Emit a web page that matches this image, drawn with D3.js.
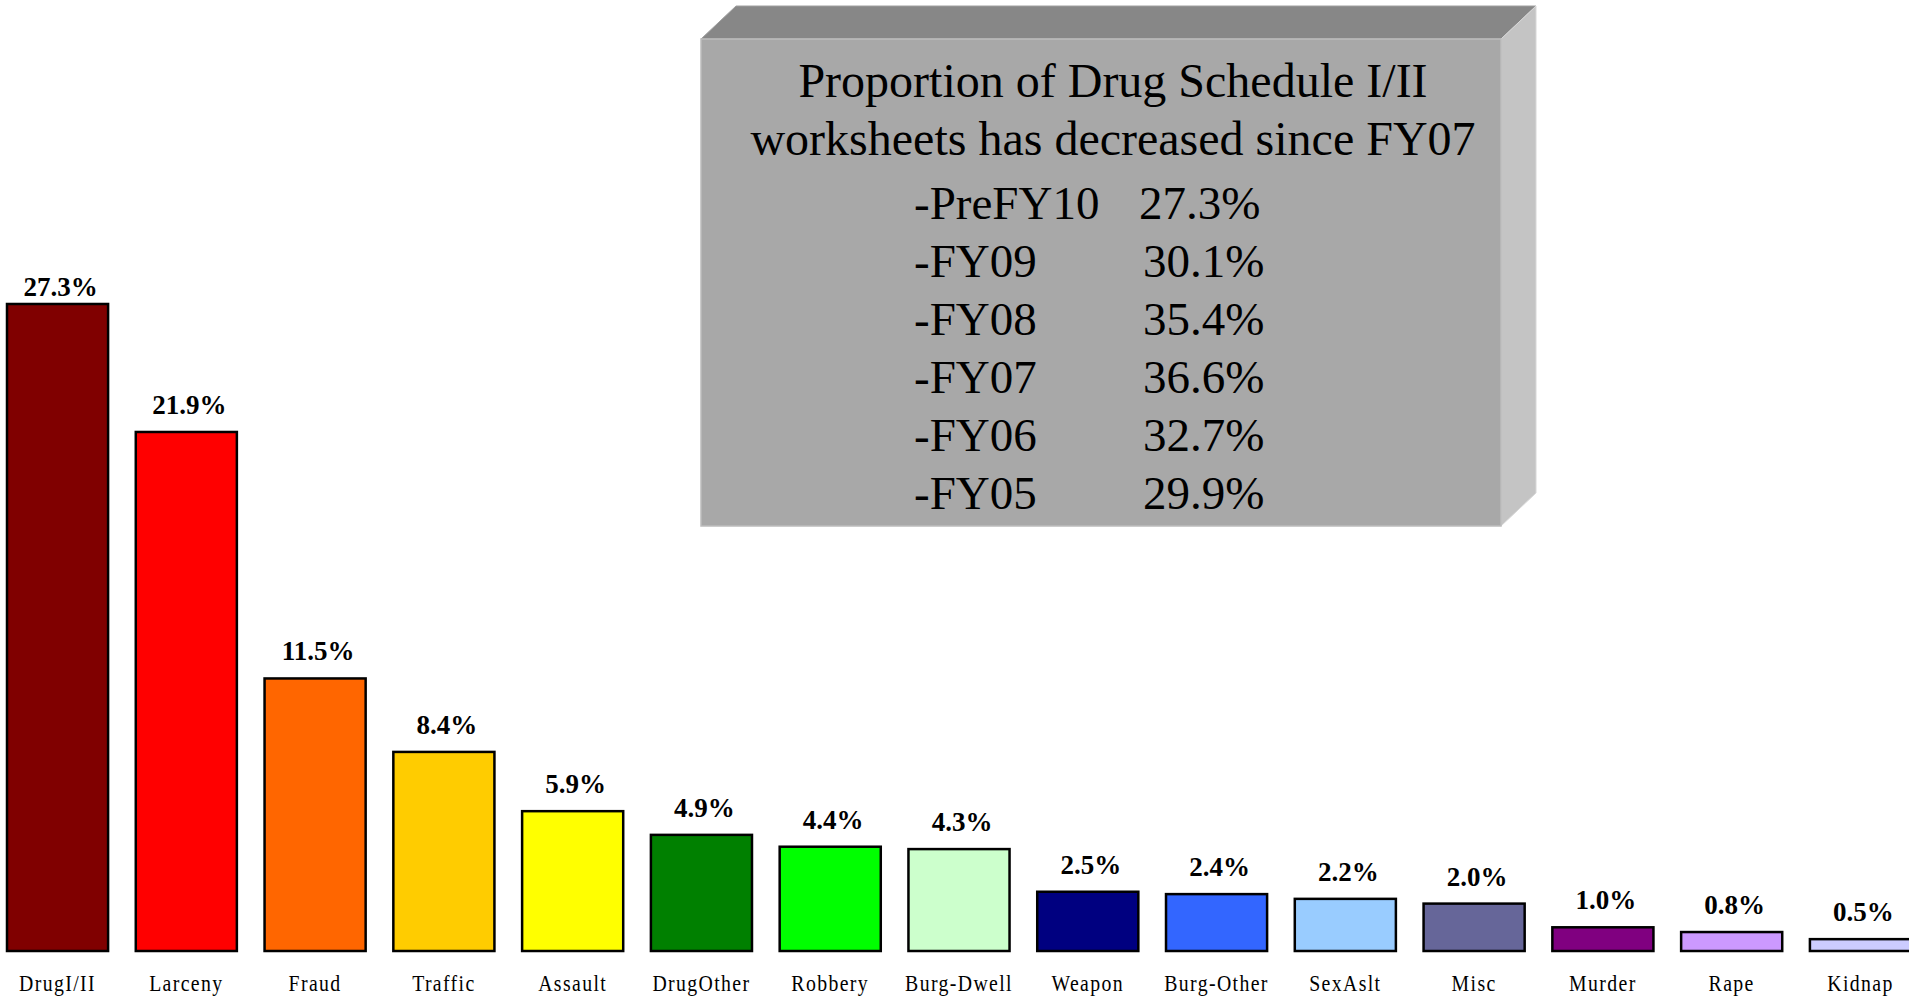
<!DOCTYPE html>
<html>
<head>
<meta charset="utf-8">
<script src="https://cdn.jsdelivr.net/npm/d3@7"></script>
<style>
  body { margin: 0; background: #fff; }
  svg { display: block; }
</style>
</head>
<body>
<div id="chart"></div>
<script>
// dados do gráfico
const categories = ["DrugI/II", "Larceny", "Fraud", "Traffic", "Assault", "DrugOther", "Robbery",
  "Burg-Dwell", "Weapon", "Burg-Other", "SexAslt", "Misc", "Murder", "Rape", "Kidnap"];
const shares = [27.3, 21.9, 11.5, 8.4, 5.9, 4.9, 4.4, 4.3, 2.5, 2.4, 2.2, 2.0, 1.0, 0.8, 0.5];
const barColors = ["#800000", "#FF0000", "#FF6600", "#FFCC00", "#FFFF00", "#008000", "#00FF00",
  "#CCFFCC", "#000080", "#3366FF", "#99CCFF", "#666699", "#800080", "#CC99FF", "#CCCCFF"];

// caixa de texto
const titleLines = ["Proportion of Drug Schedule I/II", "worksheets has decreased since FY07"];
const years = ["-PreFY10", "-FY09", "-FY08", "-FY07", "-FY06", "-FY05"];
const yearShares = ["27.3%", "30.1%", "35.4%", "36.6%", "32.7%", "29.9%"];

const W = 1909, H = 997;
const serif = "'Liberation Serif', 'Times New Roman', serif";

const svg = d3.select("#chart").append("svg")
  .attr("width", W)
  .attr("height", H);

const x = d3.scaleBand()
  .domain(categories)
  .range([7, 1911])
  .paddingInner(0.215)
  .paddingOuter(0);

const y = d3.scaleLinear()
  .domain([0, 30])
  .range([951, 240]);

// barras
svg.append("g")
  .selectAll("rect")
  .data(categories)
  .join("rect")
  .attr("x", d => x(d))
  .attr("y", (d, i) => y(shares[i]))
  .attr("width", x.bandwidth())
  .attr("height", (d, i) => y(0) - y(shares[i]))
  .attr("fill", (d, i) => barColors[i])
  .attr("stroke", "#000")
  .attr("stroke-width", 2.5);

// valores acima das barras (o primeiro fica mais colado na barra)
svg.append("g")
  .selectAll("text")
  .data(categories)
  .join("text")
  .attr("x", d => x(d) + x.bandwidth() / 2 + 3)
  .attr("y", (d, i) => y(shares[i]) - (i === 0 ? 8 : 18))
  .attr("text-anchor", "middle")
  .style("font-family", serif)
  .style("font-weight", "bold")
  .style("font-size", "27px")
  .text((d, i) => shares[i].toFixed(1) + "%");

// rótulos das categorias (fonte um pouco comprimida na horizontal)
svg.append("g")
  .selectAll("text")
  .data(categories)
  .join("text")
  .attr("transform", d => `translate(${x(d) + x.bandwidth() / 2},991) scale(0.86,1)`)
  .attr("text-anchor", "middle")
  .style("font-family", serif)
  .style("font-size", "23px")
  .style("letter-spacing", "1.6px")
  .text(d => d);

// caixa 3D
const box = { x0: 701, y0: 39, x1: 1501, y1: 526, dx: 35, dy: 33 };
const bx = svg.append("g");

bx.append("path") // topo
  .attr("d", `M${box.x0},${box.y0} L${box.x0 + box.dx},${box.y0 - box.dy} L${box.x1 + box.dx},${box.y0 - box.dy} L${box.x1},${box.y0} Z`)
  .attr("fill", "#878787")
  .attr("stroke", "#a0a0a0")
  .attr("stroke-width", 1);

bx.append("path") // lado direito
  .attr("d", `M${box.x1},${box.y0} L${box.x1 + box.dx},${box.y0 - box.dy} L${box.x1 + box.dx},${box.y1 - box.dy} L${box.x1},${box.y1} Z`)
  .attr("fill", "#c4c4c4")
  .attr("stroke", "#d8d8d8")
  .attr("stroke-width", 1);

bx.append("rect") // frente
  .attr("x", box.x0)
  .attr("y", box.y0)
  .attr("width", box.x1 - box.x0)
  .attr("height", box.y1 - box.y0)
  .attr("fill", "#a8a8a8")
  .attr("stroke", "#bcbcbc")
  .attr("stroke-width", 1.5);

bx.append("g")
  .selectAll("text")
  .data(titleLines)
  .join("text")
  .attr("x", 1113)
  .attr("y", (d, i) => 97 + i * 58)
  .attr("text-anchor", "middle")
  .style("font-family", serif)
  .style("font-size", "48px")
  .text(d => d);

const rows = bx.append("g")
  .selectAll("g")
  .data(years)
  .join("g")
  .attr("transform", (d, i) => `translate(0,${219 + i * 58})`);

rows.append("text")
  .attr("x", 914)
  .style("font-family", serif)
  .style("font-size", "47px")
  .text(d => d);

rows.append("text")
  .attr("x", (d, i) => i === 0 ? 1139 : 1143)
  .style("font-family", serif)
  .style("font-size", "47px")
  .text((d, i) => yearShares[i]);
</script>
</body>
</html>
